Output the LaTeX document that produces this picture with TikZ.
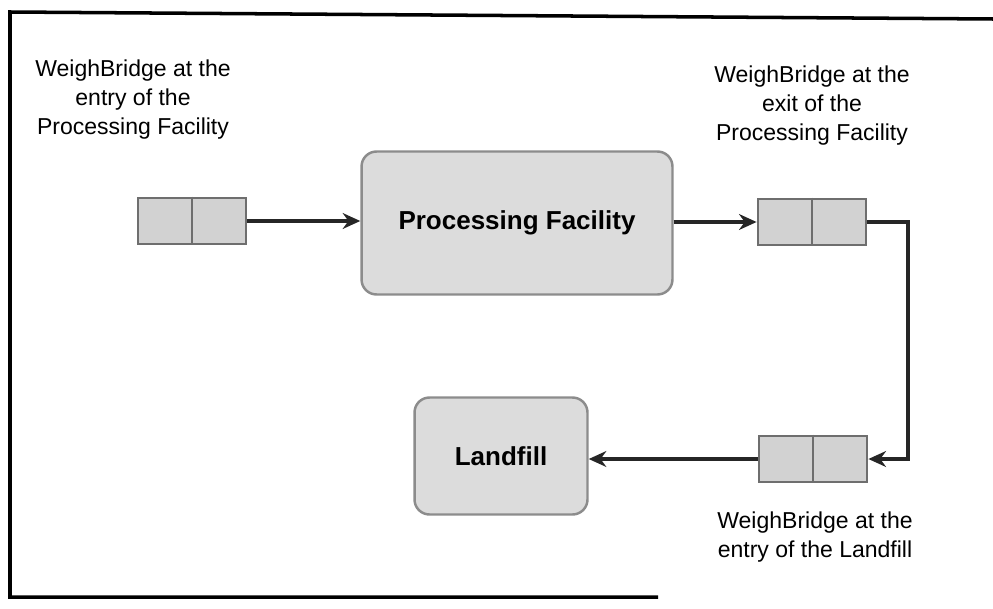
\documentclass[tikz,border=0pt]{standalone}
\usepackage{fontspec}
\setmainfont{Liberation Sans}
\usetikzlibrary{arrows.meta}

\definecolor{boxfill}{HTML}{DCDCDC}
\definecolor{boxline}{HTML}{8C8C8C}
\definecolor{wbfill}{HTML}{D2D2D2}
\definecolor{wbline}{HTML}{6E6E6E}
\definecolor{flowline}{HTML}{262626}

\begin{document}
\begin{tikzpicture}[x=0.02cm,y=-0.02cm,
  facility/.style={draw=boxline,fill=boxfill,line width=1.4pt,rounded corners=0.3cm,
    font=\fontsize{14.8}{17}\selectfont\bfseries},
  bridge/.style={draw=wbline,fill=wbfill,line width=1.6pt,minimum width=2.16cm,minimum height=0.92cm},
  caption/.style={align=center,font=\fontsize{13.1}{16.5}\selectfont},
  flow/.style={draw=flowline,line width=2.2pt,-{Stealth[length=10pt,width=9pt]}}]
\useasboundingbox (0,0) rectangle (993,608);
\draw[line width=2pt] (993,19) -- (10,12) -- (10,597) -- (658,597);

\node[caption] (txtentry) at (133,100) {WeighBridge at the\\entry of the\\Processing Facility};
\node[caption] (txtexit) at (812,106) {WeighBridge at the\\exit of the\\Processing Facility};
\node[caption] (txtland) at (815,537) {WeighBridge at the\\entry of the Landfill};

\node[bridge] (wbentry) at (192,221) {};
\node[bridge] (wbexit) at (812,222) {};
\node[bridge] (wbland) at (813,459) {};
\foreach \b in {wbentry,wbexit,wbland}
  \draw[wbline,line width=0.8pt] (\b.north) -- (\b.south);

\node[facility,minimum width=6.22cm,minimum height=2.86cm] (plant) at (517,223) {Processing Facility};
\node[facility,minimum width=3.46cm,minimum height=2.34cm] (landfill) at (501,456) {Landfill};

\draw[flow] (wbentry.east) -- (wbentry.east -| plant.west);
\draw[flow] (plant.east |- wbexit.west) -- (wbexit.west);
\coordinate (turn) at (908,222);
\draw[flow] (wbexit.east) -- (turn) -- (turn |- wbland.east) -- (wbland.east);
\draw[flow] (wbland.west) -- (wbland.west -| landfill.east);
\end{tikzpicture}
\end{document}
